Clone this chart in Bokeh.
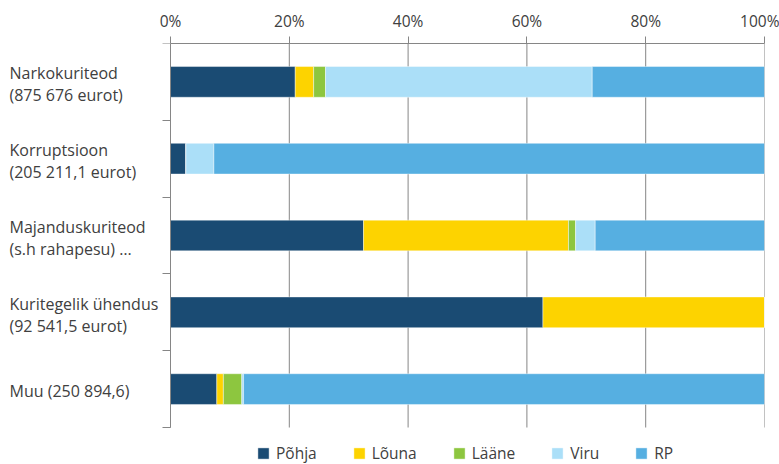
from bokeh.plotting import figure
from bokeh.models import (ColumnDataSource, Range1d, FixedTicker, PrintfTickFormatter,
                          Legend, LegendItem)
from bokeh.core.properties import value
from bokeh.embed import file_html
from bokeh.resources import INLINE

# ---- data -------------------------------------------------------------
categories = ["Narkokuriteod\n(875 676 eurot)",
              "Korruptsioon\n(205 211,1 eurot)",
              "Majanduskuriteod\n(s.h rahapesu) …",
              "Kuritegelik ühendus\n(92 541,5 eurot)",
              "Muu (250 894,6)"]
series = ["Põhja", "Lõuna", "Lääne", "Viru", "RP"]
pohja = [21.0, 2.6, 32.5, 62.7, 7.8]
louna = [3.1, 0.0, 34.5, 37.3, 1.1]
laane = [2.0, 0.0, 1.2, 0.0, 3.1]
viru = [44.9, 4.7, 3.3, 0.0, 0.3]
rp = [29.0, 92.7, 28.5, 0.0, 87.7]
x_ticks = [0, 20, 40, 60, 80, 100]

colors = ["#1a4b73", "#fdd300", "#8dc63f", "#abdff8", "#56afe1"]
FONT = "Open Sans"
TXT = "#404040"
GRID = "#868686"

# ---- layout (pixels) --------------------------------------------------
W, H = 779, 464
B_TOP, B_RIGHT = 43, 15          # frame spans from the left edge to 764, 43 to bottom
AXIS_X = 170                     # pixel of the 0 % line
ROW_PX = 76.8                    # height of one category row
LABEL_PX = 9                     # left edge of category texts
frame_w = W - B_RIGHT
frame_h = H - B_TOP

n = len(categories)
x_lo = -100 * AXIS_X / (frame_w - AXIS_X)
x_per_px = (100 - x_lo) / frame_w
y_hi = frame_h / ROW_PX

src = ColumnDataSource(dict(y=[i + 0.5 for i in range(n)],
                            **{s: v for s, v in zip(series, [pohja, louna, laane, viru, rp])}))

p = figure(width=W, height=H, output_backend="svg", toolbar_location=None,
           x_range=Range1d(x_lo, 100), y_range=Range1d(y_hi, 0),
           x_axis_location="above",
           min_border_left=0, min_border_right=B_RIGHT,
           min_border_top=B_TOP, min_border_bottom=0)
p.outline_line_color = None
p.background_fill_color = "white"
p.xgrid.grid_line_color = None
p.ygrid.grid_line_color = None

# vertical gridlines, only across the category rows
p.segment(x0=x_ticks, y0=[0] * len(x_ticks), x1=x_ticks, y1=[n] * len(x_ticks),
          line_color=GRID, line_width=1)

rends = p.hbar_stack(series, y="y", height=0.4, color=colors, source=src,
                     line_color="white", line_width=0.6, line_alpha=0.7)

# x axis (top)
xa = p.xaxis[0]
xa.ticker = FixedTicker(ticks=x_ticks)
xa.formatter = PrintfTickFormatter(format="%d%%")
xa.bounds = (x_ticks[0], x_ticks[-1])
xa.major_label_text_font = FONT
xa.major_label_text_font_size = "15.5px"
xa.major_label_text_color = TXT
xa.axis_line_color = GRID
xa.major_tick_line_color = GRID
xa.major_tick_out = 7
xa.major_tick_in = 0
xa.minor_tick_line_color = None
xa.major_label_standoff = 5

# y axis at x = 0 with ticks at category boundaries
ya = p.yaxis[0]
ya.fixed_location = 0
ya.bounds = (0, n)
ya.ticker = FixedTicker(ticks=list(range(n + 1)))
ya.major_label_overrides = {i: "" for i in range(n + 1)}
ya.axis_line_color = GRID
ya.major_tick_line_color = GRID
ya.major_tick_out = 8
ya.major_tick_in = 0
ya.minor_tick_line_color = None
ya.major_label_standoff = 0

# category texts, left aligned near the page edge
label_x = x_lo + LABEL_PX * x_per_px
p.text(x=[label_x] * n, y=[i + 0.53 for i in range(n)], text=categories,
       text_font=value(FONT), text_font_size="16px", text_color=TXT,
       text_align="left", text_baseline="middle", text_line_height=1.0)

legend = Legend(items=[LegendItem(label=s, renderers=[r]) for s, r in zip(series, rends)],
                orientation="horizontal", location=(256, 0),
                label_text_font=FONT, label_text_font_size="15.5px",
                label_text_color=TXT, glyph_width=14, glyph_height=14,
                label_standoff=6, spacing=35, padding=0, margin=0,
                border_line_color=None, background_fill_alpha=0)
p.add_layout(legend, "center")

open("out.html", "w").write(file_html(p, INLINE))
